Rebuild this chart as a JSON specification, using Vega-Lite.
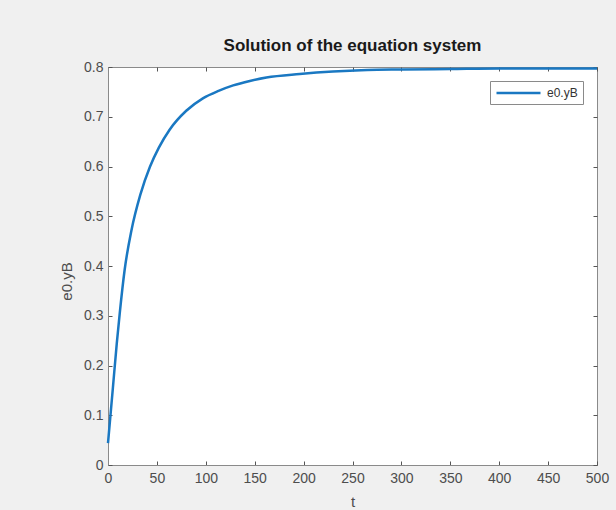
{
  "$schema": "https://vega.github.io/schema/vega-lite/v6.json",
  "width": 489,
  "height": 398,
  "autosize": {"type": "none"},
  "padding": {"left": 108, "top": 67, "right": 19, "bottom": 45},
  "background": "#f0f0f0",
  "config": {
    "view": {"fill": "white", "stroke": "#8a8a8a", "strokeWidth": 1},
    "font": "Liberation Sans",
    "axis": {
      "grid": false,
      "domainColor": "#8a8a8a",
      "tickColor": "#555555",
      "tickSize": -4,
      "labelColor": "#4d4d4d",
      "labelFont": "Liberation Sans",
      "labelFontSize": 14,
      "labelFlush": false,
      "titleFont": "Liberation Sans",
      "titleFontWeight": "normal",
      "titleColor": "#4d4d4d",
      "titleFontSize": 15
    }
  },
  "title": {
    "text": "Solution of the equation system",
    "font": "Liberation Sans",
    "fontSize": 17,
    "fontWeight": "bold",
    "color": "#1a1a1a",
    "offset": 5,
    "anchor": "middle"
  },
  "data": {
    "values": [
      {"t": 0, "y": 0.044, "s": "e0.yB"},
      {"t": 5, "y": 0.155, "s": "e0.yB"},
      {"t": 9, "y": 0.245, "s": "e0.yB"},
      {"t": 12, "y": 0.305, "s": "e0.yB"},
      {"t": 17, "y": 0.392, "s": "e0.yB"},
      {"t": 24, "y": 0.472, "s": "e0.yB"},
      {"t": 33, "y": 0.543, "s": "e0.yB"},
      {"t": 43, "y": 0.6, "s": "e0.yB"},
      {"t": 52, "y": 0.638, "s": "e0.yB"},
      {"t": 63, "y": 0.674, "s": "e0.yB"},
      {"t": 80, "y": 0.712, "s": "e0.yB"},
      {"t": 97, "y": 0.737, "s": "e0.yB"},
      {"t": 113, "y": 0.752, "s": "e0.yB"},
      {"t": 128, "y": 0.763, "s": "e0.yB"},
      {"t": 145, "y": 0.772, "s": "e0.yB"},
      {"t": 162, "y": 0.779, "s": "e0.yB"},
      {"t": 196, "y": 0.786, "s": "e0.yB"},
      {"t": 230, "y": 0.791, "s": "e0.yB"},
      {"t": 265, "y": 0.794, "s": "e0.yB"},
      {"t": 300, "y": 0.795, "s": "e0.yB"},
      {"t": 350, "y": 0.796, "s": "e0.yB"},
      {"t": 400, "y": 0.797, "s": "e0.yB"},
      {"t": 450, "y": 0.797, "s": "e0.yB"},
      {"t": 500, "y": 0.797, "s": "e0.yB"}
    ]
  },
  "layer": [
    {
      "mark": {"type": "line", "strokeWidth": 2.5, "interpolate": "monotone"},
      "encoding": {
        "x": {
          "field": "t", "type": "quantitative",
          "scale": {"domain": [0, 500], "nice": false, "zero": false},
          "axis": {"values": [0, 50, 100, 150, 200, 250, 300, 350, 400, 450, 500], "title": "t", "labelPadding": 10, "titlePadding": 9}
        },
        "y": {
          "field": "y", "type": "quantitative",
          "scale": {"domain": [0, 0.8], "nice": false},
          "axis": {"values": [0, 0.1, 0.2, 0.3, 0.4, 0.5, 0.6, 0.7, 0.8], "format": ".1~f", "title": "e0.yB", "labelPadding": 9, "titleX": -42, "titleY": 214, "titleBaseline": "middle"}
        },
        "color": {
          "field": "s", "type": "nominal",
          "scale": {"range": ["#1a78c2"]},
          "legend": {
            "title": null,
            "orient": "top-right",
            "offset": 14,
            "symbolType": "M-1,0H7",
            "symbolSize": 121,
            "symbolStrokeWidth": 2.5,
            "labelOffset": 38,
            "labelFontSize": 12,
            "labelColor": "#333333",
            "strokeColor": "#8a8a8a",
            "fillColor": "white",
            "padding": 5,
            "cornerRadius": 0
          }
        }
      }
    },
    {
      "mark": {"type": "line", "strokeOpacity": 0},
      "encoding": {
        "x": {"field": "t", "type": "quantitative",
          "axis": {"orient": "top", "values": [0, 50, 100, 150, 200, 250, 300, 350, 400, 450, 500], "labels": false, "domain": false, "title": null}},
        "y": {"field": "y", "type": "quantitative",
          "axis": {"orient": "right", "values": [0, 0.1, 0.2, 0.3, 0.4, 0.5, 0.6, 0.7, 0.8], "labels": false, "domain": false, "title": null}}
      }
    }
  ],
  "resolve": {"axis": {"x": "independent", "y": "independent"}}
}
